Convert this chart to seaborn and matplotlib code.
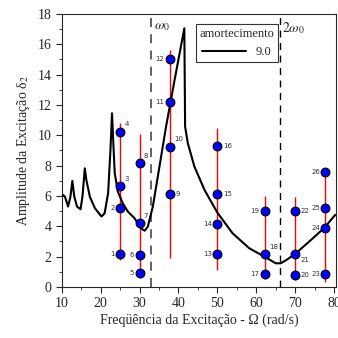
import numpy as np
import pandas as pd
import matplotlib
matplotlib.use('Agg')
import matplotlib.pyplot as plt
import seaborn as sns
from matplotlib.ticker import MultipleLocator

# response curve (damping 9.0)
curve_x = [10.1, 10.3, 10.8, 11.6, 12.2, 12.7, 13.2, 13.9, 14.8, 15.3, 15.9, 16.3, 17.2,
           18.5, 20.2, 21.0, 21.9, 22.5, 22.9, 23.2, 23.6, 24.4, 25.7, 27.0, 28.7, 30.3,
           31.3, 32.1, 33.4, 35.1, 36.8, 39.0, 41.5, 41.7, 42.4, 44.1, 46.7, 50.0, 53.9,
           58.2, 62.1, 65.0, 66.3, 68.0, 70.2, 73.6, 77.4, 80.3]
curve_y = [6.0, 6.06, 5.95, 5.3, 5.95, 6.99, 5.95, 5.3, 5.12, 5.95, 7.82, 7.05, 5.95,
           5.19, 4.64, 4.86, 6.18, 9.03, 11.45, 9.69, 7.5, 6.28, 5.5, 4.96, 4.53, 3.87,
           3.71, 3.97, 5.3, 7.93, 10.57, 13.65, 17.05, 10.57, 9.47, 7.93, 6.39, 4.9, 3.54,
           2.55, 2.0, 1.56, 1.56, 1.82, 2.22, 2.99, 3.87, 4.75]

# measured points
pt_id = list(range(1, 27))
pt_x = [25, 25, 25, 25, 30, 30, 30, 30, 37.7, 37.7, 37.7, 37.7, 50, 50, 50, 50,
        62.2, 62.2, 62.2, 70, 70, 70, 77.8, 77.8, 77.8, 77.8]
pt_y = [2.17, 5.2, 6.66, 10.24, 0.94, 2.11, 4.2, 8.15, 6.13, 9.25, 12.2, 15.05,
        2.15, 4.13, 6.13, 9.3, 0.86, 2.15, 5.03, 0.77, 2.17, 5.0, 0.86, 3.87, 5.2, 7.58]
pt_side = ['l', 'l', 'ur', 'ur', 'l', 'l', 'ur', 'ur', 'r', 'ur', 'l', 'l',
           'l', 'l', 'r', 'r', 'l', 'ur', 'l', 'r', 'lr', 'r', 'l', 'l', 'l', 'l']

# red ranges per frequency
rng_x = [25, 30, 37.7, 50, 62.2, 70, 77.8]
rng_lo = [1.8, 0.6, 1.9, 1.1, 0.5, 0.46, 0.35]
rng_hi = [10.8, 10.1, 15.6, 10.5, 6.0, 5.9, 7.76]

w0 = 33
w0x2 = 66

plt.rcParams['mathtext.fontset'] = 'stix'
sns.set_style('ticks')
plt.rcParams['font.family'] = ['Liberation Serif', 'DejaVu Serif']

fig = plt.figure(figsize=(3.38, 3.38), dpi=100)
ax = fig.add_axes([0.183, 0.151, 0.811, 0.808])

ax.vlines(rng_x, rng_lo, rng_hi, color='red', lw=1.0, zorder=2)
ax.axvline(w0, color='#555555', ls=(0, (5, 4)), lw=1.3, zorder=1)
ax.axvline(w0x2, color='black', ls=(0, (5, 4)), lw=1.0, zorder=1)

curve = pd.DataFrame({'x': curve_x, 'y': curve_y})
sns.lineplot(data=curve, x='x', y='y', color='black', lw=1.5, sort=False,
             label='9.0', ax=ax, zorder=3)

pts = pd.DataFrame({'x': pt_x, 'y': pt_y})
sns.scatterplot(data=pts, x='x', y='y', color='#0000ff', edgecolor='black',
                linewidth=0.8, s=40, ax=ax, zorder=4, legend=False)

offs = {'l': (-4, 0, 'right', 'center'), 'r': (4, 0, 'left', 'center'),
        'ur': (3, 3, 'left', 'bottom'), 'lr': (4, -2, 'left', 'top')}
for i, x, y, s in zip(pt_id, pt_x, pt_y, pt_side):
    dx, dy, ha, va = offs[s]
    ax.annotate(str(i), (x, y), xytext=(dx, dy), textcoords='offset points',
                ha=ha, va=va, fontsize=5, color='#333333', family='DejaVu Sans')

ax.text(w0 + 0.6, 17.6, r'$\omega_0$', fontsize=10, va='top')
ax.text(w0x2 + 0.6, 17.6, r'$2\omega_0$', fontsize=10, va='top')

ax.set_xlim(10, 80.5)
ax.set_ylim(0, 18)
ax.xaxis.set_major_locator(MultipleLocator(10))
ax.xaxis.set_minor_locator(MultipleLocator(5))
ax.yaxis.set_major_locator(MultipleLocator(2))
ax.yaxis.set_minor_locator(MultipleLocator(1))
ax.tick_params(which='major', direction='out', length=4, width=0.8, labelsize=10)
ax.tick_params(which='minor', direction='out', length=2, width=0.6)
for sp in ax.spines.values():
    sp.set_linewidth(0.8)

ax.set_xlabel('Freqüência da Excitação - Ω (rad/s)', fontsize=10, labelpad=2)
ax.set_ylabel('Amplitude da Excitação δ$_2$', fontsize=10, labelpad=4)

leg = ax.legend(title='amortecimento', loc='upper left', bbox_to_anchor=(0.465, 0.985),
                fontsize=9, title_fontsize=9, frameon=True, fancybox=False,
                edgecolor='black', handlelength=3.5, borderpad=0.3, markerfirst=True)
leg.get_frame().set_linewidth(0.8)

fig.savefig('out.png', dpi=100)
